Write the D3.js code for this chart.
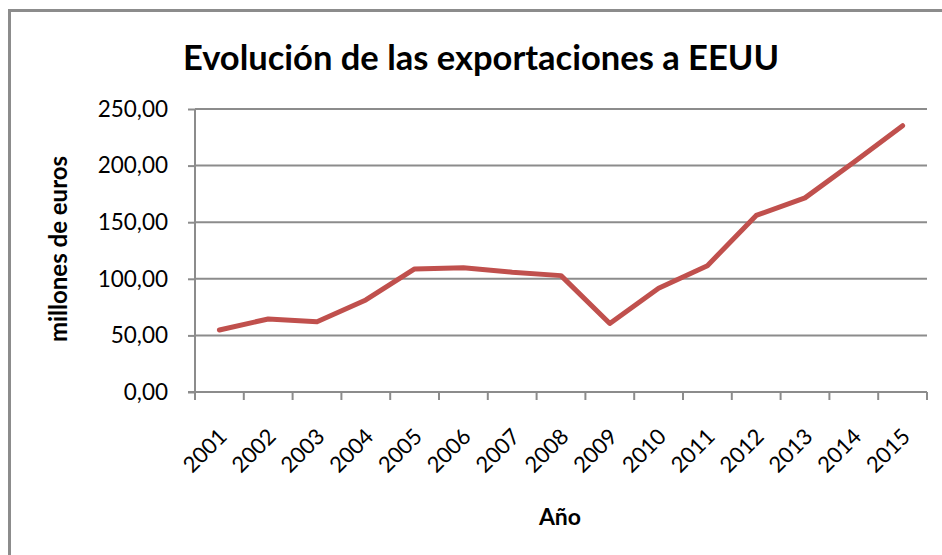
<!DOCTYPE html>
<html><head><meta charset="utf-8">
<script src="https://cdn.jsdelivr.net/npm/d3@7/dist/d3.min.js"></script>
<style>body{margin:0;background:#fff}svg{display:block}</style>
</head><body><svg id="c" width="942" height="555"></svg>
<script>
const years = ["2001","2002","2003","2004","2005","2006","2007","2008","2009","2010","2011","2012","2013","2014","2015"];
const exportsValues = [54.8, 64.5, 62.0, 81.3, 108.7, 109.8, 105.8, 102.8, 60.5, 91.6, 111.6, 156.0, 171.5, 203.0, 235.3];
const yTicks = [0, 50, 100, 150, 200, 250];
const titleText = "Evolución de las exportaciones a EEUU";
const yTitle = "millones de euros";
const xTitle = "Año";

const svg = d3.select("#c");
const font = "Lato, 'Open Sans', sans-serif";
const m = {left:195, right:927, top:109, bottom:392};

// outer border (top and left visible)
svg.append("path").attr("d","M9.5,555 L9.5,10.5 L942,10.5").attr("fill","none").attr("stroke","#8c8c8c").attr("stroke-width",3);

const x = d3.scaleBand().domain(years).range([m.left, m.right]).padding(0);
const y = d3.scaleLinear().domain([0,250]).range([m.bottom, m.top]);

// gridlines
svg.append("g").selectAll("line").data(yTicks.filter(d=>d>0)).join("line")
  .attr("x1", m.left).attr("x2", m.right)
  .attr("y1", d=>y(d)).attr("y2", d=>y(d))
  .attr("stroke","#8c8c8c").attr("stroke-width",2);

// y axis
const yAxis = svg.append("g").attr("transform",`translate(${m.left},0)`)
  .call(d3.axisLeft(y).tickValues(yTicks).tickSize(7).tickPadding(20)
    .tickFormat(d=>d3.format(".2f")(d).replace(".",",")));
yAxis.select(".domain").attr("stroke","#8c8c8c").attr("stroke-width",2).attr("d",`M0,${m.top}V${m.bottom}`);
yAxis.selectAll(".tick line").attr("stroke","#8c8c8c").attr("stroke-width",2);
yAxis.selectAll(".tick text").attr("font-family",font).attr("font-size",22.5).attr("fill","#000");

// x axis
const xAxis = svg.append("g").attr("transform",`translate(0,${m.bottom})`)
  .call(d3.axisBottom(x).tickSize(0).tickFormat(d=>d));
xAxis.select(".domain").attr("stroke","#8c8c8c").attr("stroke-width",2).attr("d",`M${m.left-7},0H${m.right}`);
const bounds = years.map(d=>x(d)).concat([m.right]);
xAxis.selectAll(".bt").data(bounds).join("line").attr("class","bt")
  .attr("x1",d=>d).attr("x2",d=>d).attr("y1",0).attr("y2",8)
  .attr("stroke","#8c8c8c").attr("stroke-width",2);
xAxis.selectAll(".tick text")
  .attr("font-family",font).attr("font-size",22).attr("fill","#000")
  .attr("text-anchor","end").attr("dy",0).attr("y",0)
  .attr("transform","translate(9,46) rotate(-45)");

// line
const line = d3.line().x((d,i)=>x(years[i])+x.bandwidth()/2).y(d=>y(d));
svg.append("path").datum(exportsValues).attr("d",line)
  .attr("fill","none").attr("stroke","#C0504D").attr("stroke-width",5)
  .attr("stroke-linejoin","round").attr("stroke-linecap","round");

// titles
svg.append("text").attr("x",481).attr("y",70).attr("text-anchor","middle")
  .attr("font-family",font).attr("font-weight","bold").attr("font-size",34.5).text(titleText);
svg.append("text").attr("transform","translate(67,249) rotate(-90)").attr("text-anchor","middle")
  .attr("font-family",font).attr("font-weight","bold").attr("font-size",24).text(yTitle);
svg.append("text").attr("x",560).attr("y",525).attr("text-anchor","middle")
  .attr("font-family",font).attr("font-weight","bold").attr("font-size",23).text(xTitle);
</script></body></html>
